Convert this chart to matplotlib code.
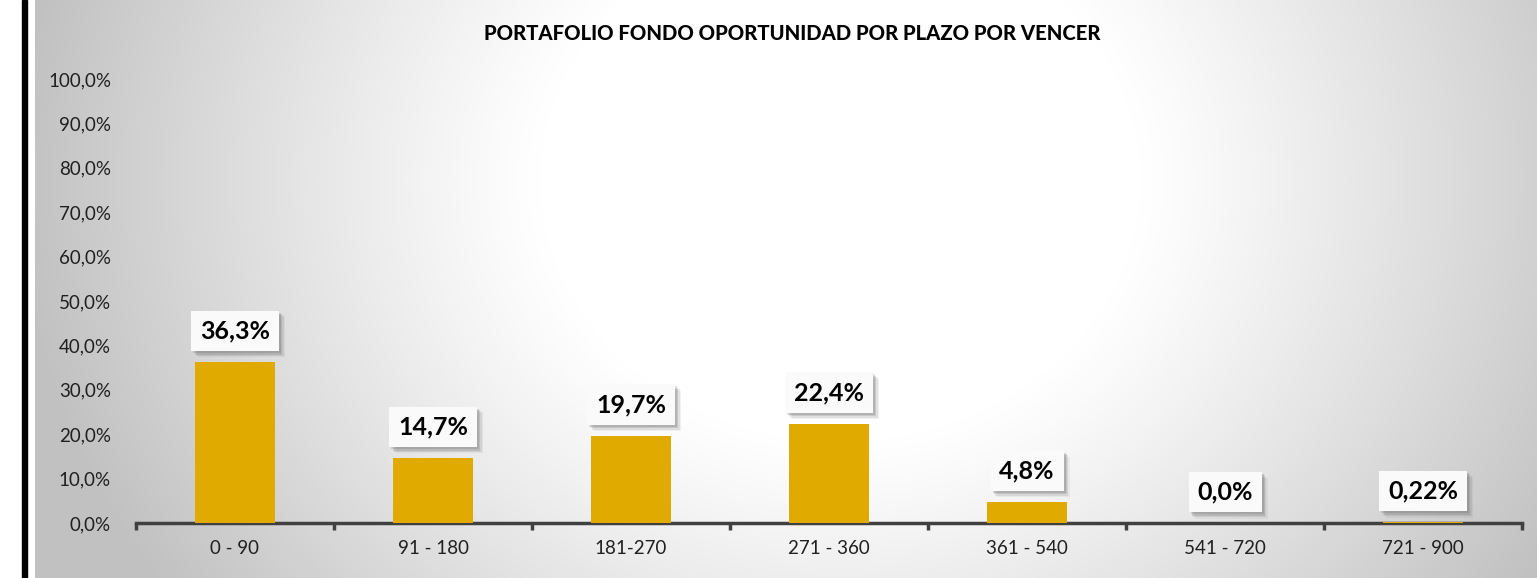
import numpy as np
import matplotlib.pyplot as plt
import matplotlib.patheffects as pe
from matplotlib.ticker import FuncFormatter

categorias = ["0 - 90", "91 - 180", "181-270", "271 - 360", "361 - 540", "541 - 720", "721 - 900"]
valores = [36.3, 14.7, 19.7, 22.4, 4.8, 0.0, 0.22]
etiquetas = ["36,3%", "14,7%", "19,7%", "22,4%", "4,8%", "0,0%", "0,22%"]
titulo = "PORTAFOLIO FONDO OPORTUNIDAD POR PLAZO POR VENCER"

plt.rcParams["font.family"] = ["Lato", "DejaVu Sans"]

W, H = 1537, 578
fig = plt.figure(figsize=(W / 100, H / 100), dpi=100)
fig.patch.set_facecolor("white")

# fondo con degradado radial
bg = fig.add_axes([35 / W, 0, 1 - 35 / W, 1])
yy, xx = np.mgrid[0:H, 35:W]
d = np.sqrt((xx - 840) ** 2 + ((yy - 180) * 1.15) ** 2)
v = 1 - 0.24 * np.clip((d - 300) / 520, 0, 1) ** 1.1
bg.imshow(np.dstack([v, v, v]), aspect="auto", extent=[0, 1, 0, 1])
bg.axis("off")

# borde negro a la izquierda
fig.patches.append(plt.Rectangle((22 / W, 0), 5 / W, 1, transform=fig.transFigure,
                                 color="black", zorder=5))

ax = fig.add_axes([136 / W, 55 / H, (1522 - 136) / W, (523 - 79) / H])
ax.patch.set_alpha(0)
x = np.arange(len(categorias))
ax.bar(x, valores, width=0.4, color="#E0AA00", zorder=3)

ax.set_xlim(-0.5, len(categorias) - 0.5)
ax.set_ylim(0, 100)
ax.set_yticks(np.arange(0, 101, 10))
ax.yaxis.set_major_formatter(FuncFormatter(lambda v, p: f"{v:.1f}%".replace(".", ",")))
ax.set_xticks(x)
ax.set_xticklabels(categorias)
ax.set_xticks(np.arange(-0.5, len(categorias), 1), minor=True)

for s in ["top", "right", "left"]:
    ax.spines[s].set_visible(False)
ax.spines["bottom"].set_color("#404040")
ax.spines["bottom"].set_linewidth(2.5)
ax.tick_params(axis="y", length=0, labelsize=13.5, labelcolor="#202020", pad=18)
ax.tick_params(axis="x", which="major", length=0, labelsize=13.5, labelcolor="#202020", pad=12)
ax.tick_params(axis="x", which="minor", length=5, width=2.5, color="#404040")

sombra = [pe.withSimplePatchShadow(offset=(o, -o), shadow_rgbFace="#606060", alpha=a)
          for o, a in [(4.5, 0.08), (3.5, 0.12), (2.5, 0.18), (1.5, 0.2)]]
for xi, val, lab in zip(x, valores, etiquetas):
    t = ax.annotate(lab, (xi, val), xytext=(0, 14), textcoords="offset points",
                    ha="center", va="bottom", fontsize=18, fontweight="bold", color="black",
                    bbox=dict(boxstyle="square,pad=0.35", fc="#FAFAFA", ec="none"), zorder=6)
    t.get_bbox_patch().set_path_effects(sombra + [pe.Normal()])

fig.text(792 / W, 1 - 33 / H, titulo, ha="center", va="center",
         fontsize=14.6, fontweight="black", color="black")

fig.savefig("out.png", dpi=100)
